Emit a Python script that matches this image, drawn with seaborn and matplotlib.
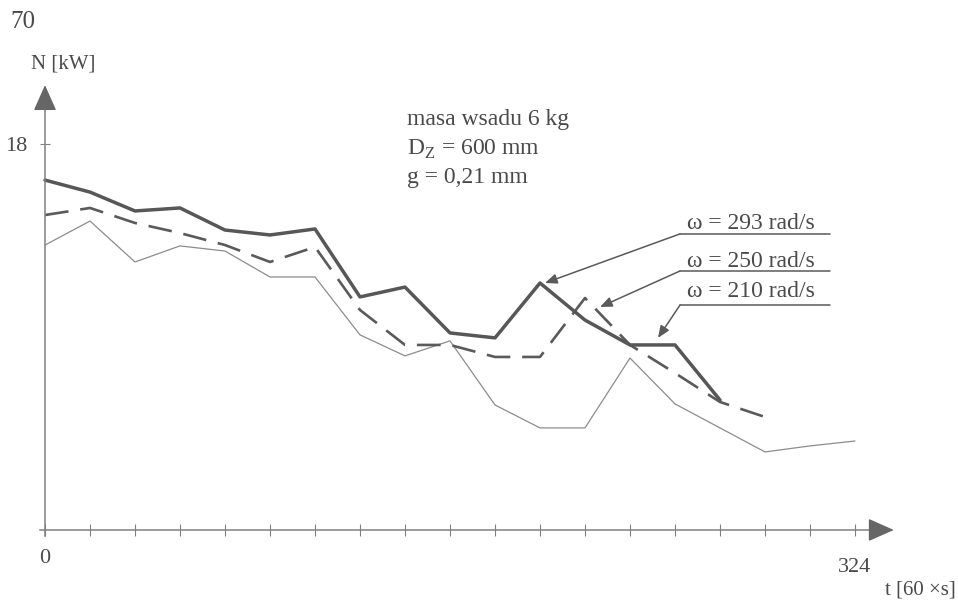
import numpy as np
import pandas as pd
import matplotlib
matplotlib.use("Agg")
import matplotlib.pyplot as plt
import seaborn as sns

# ---- data ----
t_all = list(range(0, 325, 18))  # time axis [60 x s]
n_293 = [16.32, 15.76, 14.88, 15.02, 13.99, 13.76, 14.04, 10.87, 11.33,
         9.19, 8.96, 11.52, 9.79, 8.63, 8.63, 6.06]
n_250 = [14.69, 15.02, 14.32, 13.85, 13.29, 12.50, 13.20, 10.26, 8.63,
         8.63, 8.07, 8.07, 10.82, 8.63, 7.32, 5.97, 5.27]
n_210 = [13.29, 14.41, 12.50, 13.25, 13.01, 11.80, 11.80, 9.10, 8.12,
         8.82, 5.83, 4.76, 4.76, 8.02, 5.88, 4.76, 3.64, 3.92, 4.15]
series_labels = ["ω = 293 rad/s", "ω = 250 rad/s", "ω = 210 rad/s"]
x_ticks = list(range(0, 325, 18))
y_tick = [18]

sns.set_theme(style="white")
plt.rcParams["font.family"] = ["Liberation Serif", "DejaVu Serif"]
plt.rcParams["mathtext.fontset"] = "custom"
plt.rcParams["mathtext.rm"] = "Liberation Serif"

TXT = "#4a4a4a"
AX = "#808080"

fig = plt.figure(figsize=(9.58, 6.02), dpi=100)
ax = fig.add_axes([0, 0, 1, 1])
ax.set_xlim(-18, 365.2)
ax.set_ylim(-3.36, 24.72)

df = pd.concat([
    pd.DataFrame({"t": t_all[:len(n_293)], "N": n_293, "s": series_labels[0]}),
    pd.DataFrame({"t": t_all[:len(n_250)], "N": n_250, "s": series_labels[1]}),
    pd.DataFrame({"t": t_all[:len(n_210)], "N": n_210, "s": series_labels[2]}),
])

sns.lineplot(data=df[df.s == series_labels[2]], x="t", y="N", ax=ax,
             color="#8c8c8c", linewidth=0.9, sort=False, legend=False)
sns.lineplot(data=df[df.s == series_labels[1]], x="t", y="N", ax=ax,
             color="#5a5a5a", linewidth=1.9, sort=False, legend=False,
             linestyle=(0, (9.0, 4.5)))
sns.lineplot(data=df[df.s == series_labels[0]], x="t", y="N", ax=ax,
             color="#575757", linewidth=2.5, sort=False, legend=False)

# ---- axes as arrows through origin ----
for s in ["top", "right"]:
    ax.spines[s].set_visible(False)
ax.spines["left"].set_position(("data", 0))
ax.spines["bottom"].set_position(("data", 0))
ax.spines["left"].set_bounds(-0.3, 20.0)
ax.spines["bottom"].set_bounds(-2, 333)
for s in ["left", "bottom"]:
    ax.spines[s].set_color(AX)
    ax.spines[s].set_linewidth(1.1)
ax.annotate("", xy=(0, 20.75), xytext=(0, 19.7),
            arrowprops=dict(arrowstyle="-|>,head_length=0.9,head_width=0.4",
                            mutation_scale=18, color="#666666", lw=1,
                            shrinkA=0, shrinkB=0))
ax.annotate("", xy=(339.5, 0), xytext=(331, 0),
            arrowprops=dict(arrowstyle="-|>,head_length=0.9,head_width=0.4",
                            mutation_scale=18, color="#666666", lw=1,
                            shrinkA=0, shrinkB=0))

ax.set_xticks(x_ticks)
ax.set_xticklabels([])
ax.set_yticks(y_tick)
ax.set_yticklabels([str(v) for v in y_tick])
ax.tick_params(axis="x", direction="inout", length=9, width=0.8, color=AX,
               bottom=True)
ax.tick_params(axis="y", direction="inout", length=7, width=0.8, color=AX,
               left=True, pad=9, labelsize=16, labelcolor=TXT)
ax.set_xlabel("")
ax.set_ylabel("")
ax.grid(False)

ax.text(0, -1.35, "0", ha="center", va="center", fontsize=16, color=TXT)
ax.text(324, -1.77, "324", ha="center", va="center", fontsize=16, color=TXT)
ax.text(364.4, -2.8, "t [60 ×s]", ha="right", va="center", fontsize=15,
        color=TXT)
ax.text(-8.8, 23.7, "70", ha="center", va="center", fontsize=18, color=TXT)
ax.text(7.2, 21.73, "N [kW]", ha="center", va="center", fontsize=15,
        color=TXT)

ax.text(144.8, 18.89, "masa wsadu 6 kg", ha="left", va="baseline",
        fontsize=17, color=TXT)
ax.text(144.8, 17.49, r"D$_{\mathrm{Z}}$ = 600 mm", ha="left",
        va="baseline", fontsize=17, color=TXT)
ax.text(144.8, 16.18, "g = 0,21 mm", ha="left", va="baseline",
        fontsize=17, color=TXT)

# ---- leader annotations ----
ann = [
    (series_labels[0], 14.04, 13.81, (200, 11.52)),
    (series_labels[1], 12.27, 12.08, (222, 10.40)),
    (series_labels[2], 10.87, 10.49, (245.2, 8.96)),
]
for label, base, uline, tip in ann:
    ax.text(256.8, base, label, ha="left", va="baseline", fontsize=17,
            color=TXT)
    ax.plot([254, 314], [uline, uline], color="#5a5a5a", lw=1.1)
    ax.annotate("", xy=tip, xytext=(254, uline),
                arrowprops=dict(arrowstyle="-|>,head_length=0.6,head_width=0.25",
                                mutation_scale=12, color="#5a5a5a", lw=1.1,
                                shrinkA=0, shrinkB=0))

fig.savefig("out.png", dpi=100, facecolor="white")
